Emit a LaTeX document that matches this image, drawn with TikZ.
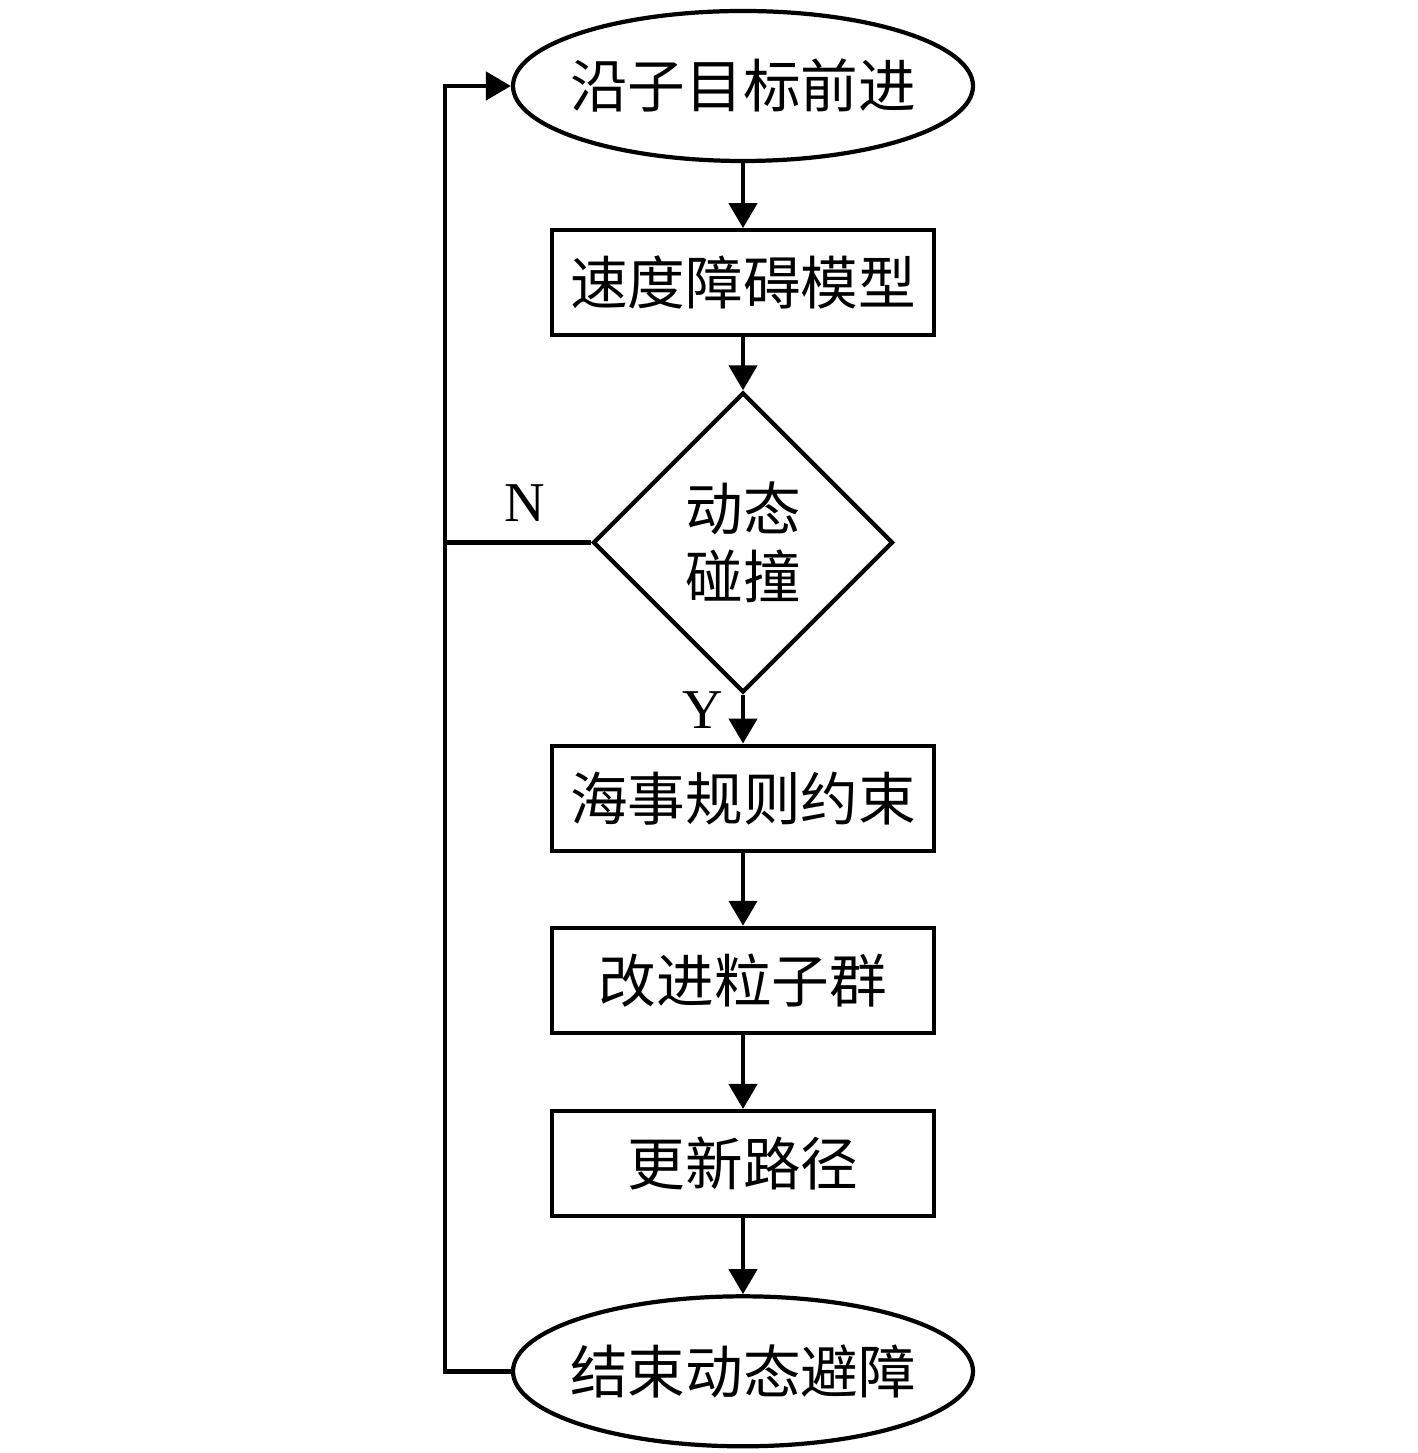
\documentclass[tikz,border=0pt]{standalone}
\usepackage{fontspec}
\setmainfont{Liberation Serif}
\newfontfamily\cjk{Noto Sans CJK SC}
\usepackage{tikz}
\usetikzlibrary{positioning,arrows.meta,shapes.geometric}

\begin{document}
\begin{tikzpicture}[
  box/.style={draw, line width=1.2pt, minimum width=3.82cm,
              minimum height=1.05cm, align=center,
              font=\cjk\fontsize{16.4pt}{19.4pt}\selectfont},
  term/.style={box, ellipse, minimum width=4.6cm, minimum height=1.5cm,
               inner xsep=-0.15cm, inner ysep=0pt},
  decide/.style={box, diamond, minimum width=3cm, minimum height=3cm,
                 inner sep=0pt},
  flow/.style={line width=1.3pt},
  >={Triangle[length=0.25cm, width=0.28cm]}
]
  \useasboundingbox (0,0) rectangle (14.17,-14.53);

  % Main column
  \node[term] (start) at (7.43,-0.86) {沿子目标前进};
  \node[box, below=0.65cm of start] (vo) {速度障碍模型};
  \node[decide, below=0.53cm of vo] (collide) {动态\\碰撞};
  \node[box, below=0.49cm of collide] (rules) {海事规则约束};
  \node[box, below=0.73cm of rules] (pso) {改进粒子群};
  \node[box, below=0.74cm of pso] (update) {更新路径};
  \node[term, below=0.76cm of update] (finish) {结束动态避障};

  % Arrows
  \draw[flow, ->] (start) -- (vo);
  \draw[flow, ->] (vo) -- (collide);
  \draw[flow, ->] (collide) -- (rules);
  \draw[flow, ->] (rules) -- (pso);
  \draw[flow, ->] (pso) -- (update);
  \draw[flow, ->] (update) -- (finish);

  % Loop back
  \coordinate (loop) at (4.45,0);
  \draw[flow, ->] (finish.west) -- (finish.west -| loop)
    -- (start.west -| loop) -- (start.west);
  \draw[flow] (collide.west) -- (collide.west -| loop);

  % Branch labels
  \node[font=\fontsize{16pt}{19pt}\selectfont] (no) at (5.25,-5.03) {N};
  \node[font=\fontsize{16pt}{19pt}\selectfont] (yes) at (7.03,-7.1) {Y};
\end{tikzpicture}
\end{document}
